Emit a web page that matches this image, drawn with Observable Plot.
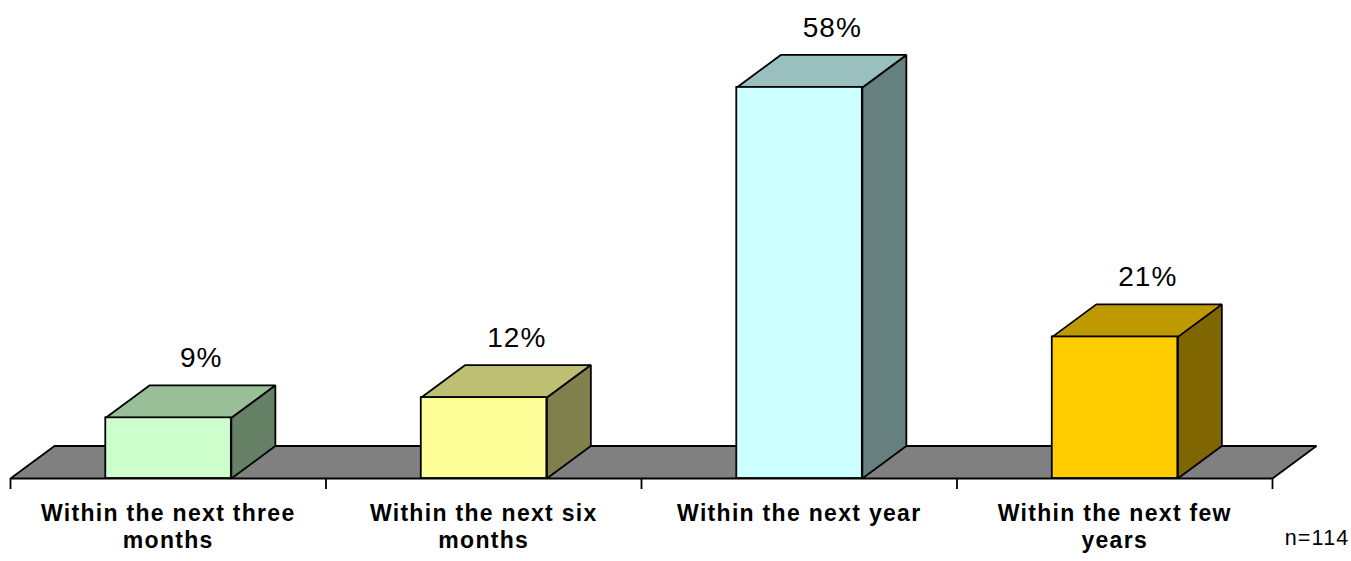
<!DOCTYPE html>
<html>
<head>
<meta charset="utf-8">
<script src="https://cdn.jsdelivr.net/npm/d3@7"></script>
<script src="https://cdn.jsdelivr.net/npm/@observablehq/plot@0.6"></script>
<style>
  body { margin: 0; background: #fff; }
  #chart { width: 1351px; height: 561px; overflow: hidden; }
  .ticklbl text, .ticklbl tspan { letter-spacing: 1.3px; }
  .pct text { letter-spacing: 1px; }
  .note text { letter-spacing: 1.2px; }
</style>
</head>
<body>
<div id="chart"></div>
<script>
// ---- data ----
const categories = ["Within the next three months", "Within the next six months", "Within the next year", "Within the next few years"];
const tickLabels = ["Within the next three\nmonths", "Within the next six\nmonths", "Within the next year", "Within the next few\nyears"];
const values = [9, 12, 58, 21];
const frontColors = ["#CCFFCC", "#FFFF99", "#CCFFFF", "#FFCC00"];
const topColors = ["#99BF99", "#BFBF73", "#99BFBF", "#BF9900"];
const sideColors = ["#668066", "#80804D", "#668080", "#806600"];
const floorColor = "#808080";
const note = "n=114";

// ---- layout ----
const W = 1351, H = 561;
const mL = 10, mR = 79, mT = 6, mB = 83;
const xMax = categories.length, yMax = 70;
const xUnit = (W - mL - mR) / xMax;      // px per category
const yUnit = (H - mT - mB) / yMax;      // px per percent
const depthPxX = 44, depthPxY = 32.5;
const ddx = depthPxX / xUnit, ddy = depthPxY / yUnit;
const b0 = 0.302, b1 = 0.70;
const sw = 1.8;

const bars = categories.map((c, i) => ({c, i, v: values[i], x1: i + b0, x2: i + b1}));

const marks = [];
// floor
marks.push(Plot.line([
  {x: 0, y: 0}, {x: xMax, y: 0}, {x: xMax + ddx, y: ddy}, {x: ddx, y: ddy}
], {x: "x", y: "y", curve: "linear-closed", fill: floorColor, stroke: "black", strokeWidth: sw, strokeLinejoin: "miter"}));
// axis ticks
marks.push(Plot.axisX(d3.range(0, xMax + 1), {tickSize: 11, tickFormat: () => "", stroke: "black", strokeWidth: sw}));
// bars
bars.forEach((b, i) => {
  const side = [
    {x: b.x2, y: 0}, {x: b.x2 + ddx, y: ddy}, {x: b.x2 + ddx, y: b.v + ddy}, {x: b.x2, y: b.v}
  ];
  const top = [
    {x: b.x1, y: b.v}, {x: b.x2, y: b.v}, {x: b.x2 + ddx, y: b.v + ddy}, {x: b.x1 + ddx, y: b.v + ddy}
  ];
  marks.push(Plot.line(side, {x: "x", y: "y", curve: "linear-closed", fill: sideColors[i], stroke: "black", strokeWidth: sw, strokeLinejoin: "miter"}));
  marks.push(Plot.line(top, {x: "x", y: "y", curve: "linear-closed", fill: topColors[i], stroke: "black", strokeWidth: sw, strokeLinejoin: "miter"}));
  marks.push(Plot.rect([b], {x1: "x1", x2: "x2", y1: () => 0, y2: "v", fill: frontColors[i], stroke: "black", strokeWidth: sw, strokeLinejoin: "miter"}));
});
// value labels
marks.push(Plot.text(bars, {x: d => d.i + 0.5, y: "v", text: d => d.v + "%", dx: 33, dy: -(depthPxY + 27), fontSize: 28, fill: "black", className: "pct"}));
// category labels
marks.push(Plot.text(bars, {x: d => d.i + 0.5, frameAnchor: "bottom", text: d => tickLabels[d.i], dy: 23, lineAnchor: "top", lineHeight: 1.17, fontSize: 23, fontWeight: "bold", fill: "black", className: "ticklbl"}));
// note
marks.push(Plot.text([note], {frameAnchor: "bottom-right", text: d => d, textAnchor: "end", dx: 77, dy: 66, fontSize: 21.5, fill: "black", className: "note"}));

const chart = Plot.plot({
  width: W, height: H,
  marginLeft: mL, marginRight: mR, marginTop: mT, marginBottom: mB,
  x: {type: "linear", domain: [0, xMax], axis: null},
  y: {type: "linear", domain: [0, yMax], axis: null},
  style: {fontFamily: "Arial, 'Liberation Sans', Helvetica, sans-serif", background: "white", color: "black", overflow: "visible"},
  marks
});
document.getElementById("chart").appendChild(chart);
</script>
</body>
</html>
